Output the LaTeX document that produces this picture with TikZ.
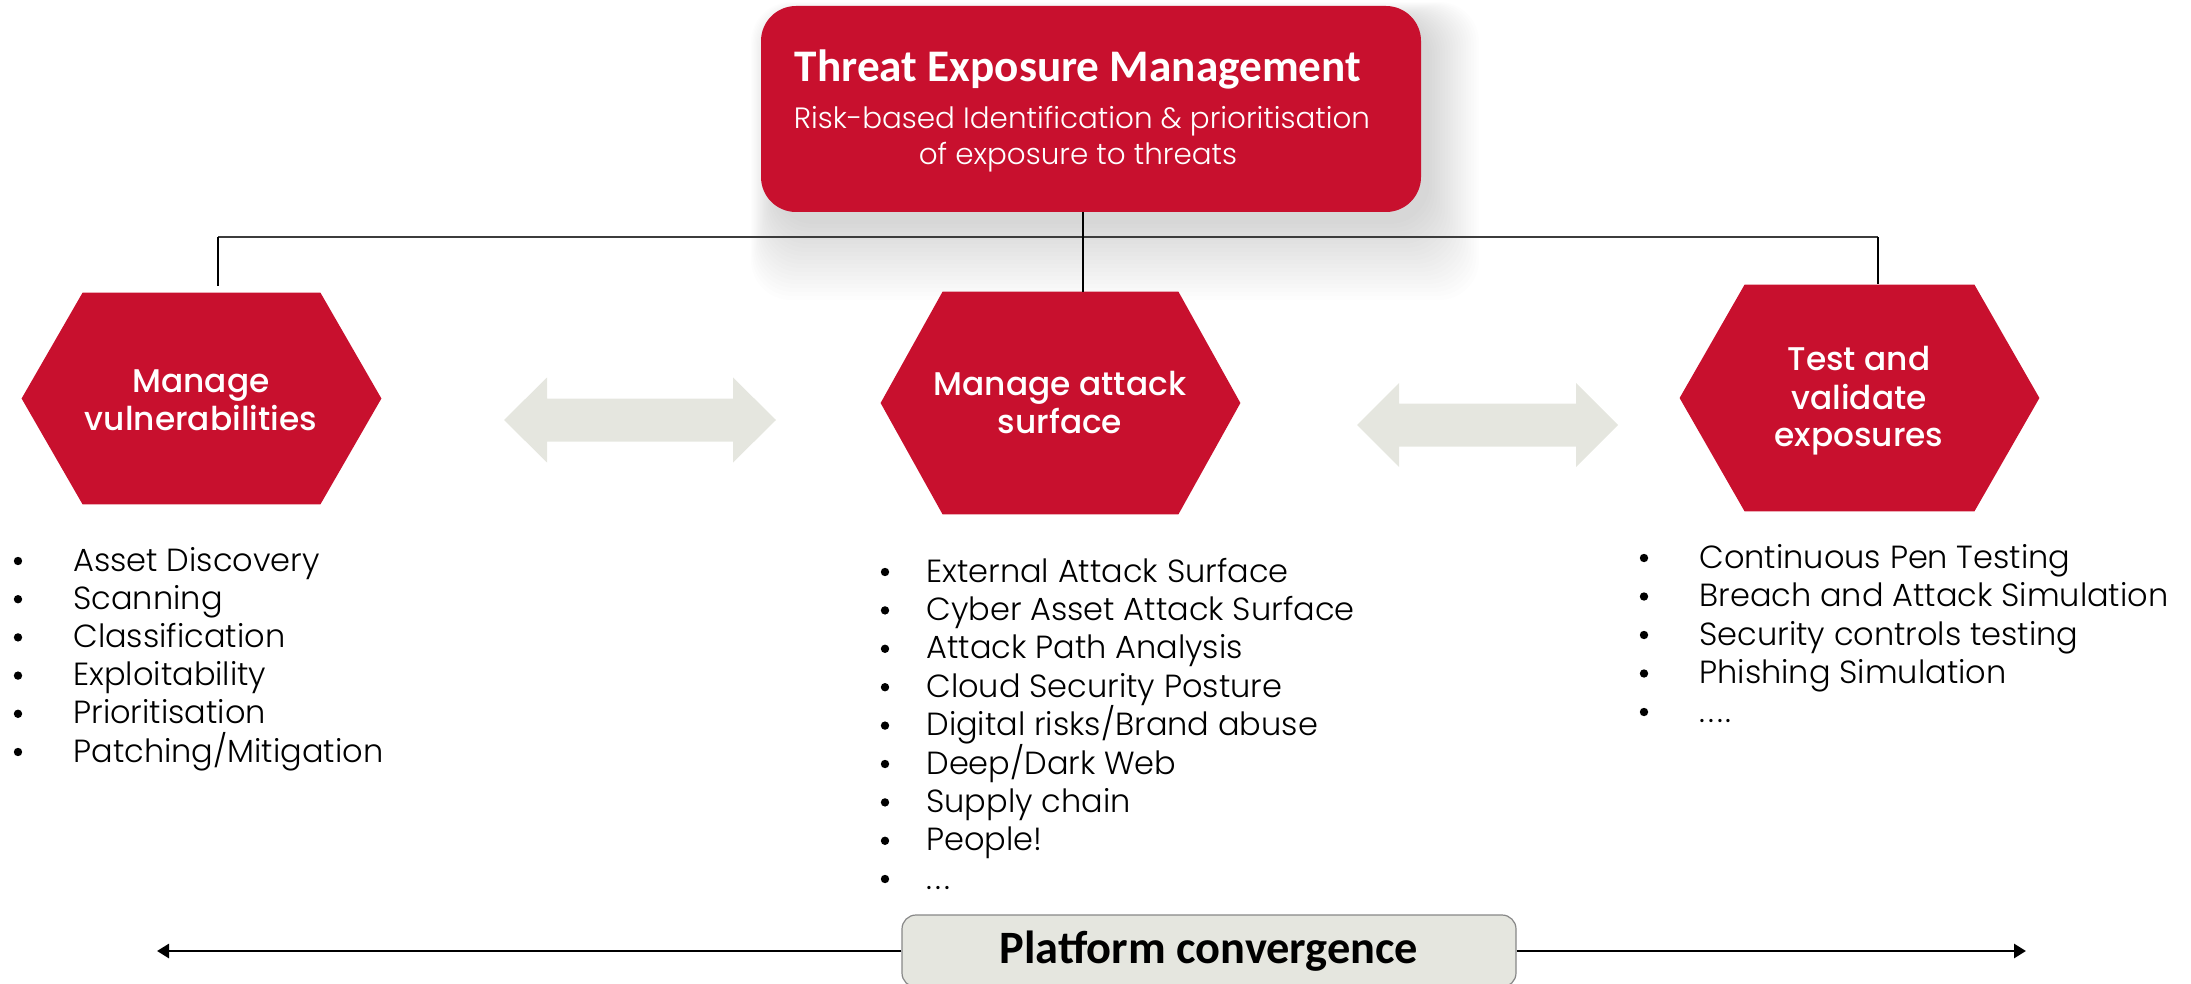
\documentclass[tikz,border=0pt]{standalone}
\usepackage{fontspec}
\setmainfont{Poppins}
\IfFontExistsTF{Poppins Light}{\newfontfamily\lightf{Poppins Light}}{\newfontfamily\lightf{Poppins}}
\IfFontExistsTF{Poppins Medium}{\newfontfamily\medf{Poppins Medium}}{\newfontfamily\medf{Poppins}}
\newfontfamily\calf{Carlito}
\usetikzlibrary{calc,arrows.meta}
\definecolor{tred}{RGB}{200,16,46}
\definecolor{agray}{RGB}{229,230,223}
\definecolor{bgray}{RGB}{135,135,135}
\definecolor{lgray}{RGB}{60,60,60}
\tikzset{
  topbox/.style={fill=tred, rounded corners=17.5pt, minimum width=330pt, minimum height=103pt, inner sep=0pt},
  hexbox/.style={inner sep=0pt, minimum width=179.5pt},
  hexlabel/.style={text=white, font=\medf\fontsize{16.4}{18}\selectfont, anchor=base, inner sep=0pt},
  titlelabel/.style={text=white, font=\calf\bfseries\fontsize{22.6}{24}\selectfont, anchor=base, inner sep=0pt},
  sublabel/.style={text=white, font=\lightf\fontsize{14.7}{16}\selectfont, anchor=base, inner sep=0pt},
  item/.style={font=\lightf\fontsize{16}{18}\selectfont, anchor=base west, inner sep=0pt},
  bulc/.style={circle, fill=black, minimum size=4.2pt, inner sep=0pt},
  busline/.style={draw=lgray, line width=1pt},
  drop/.style={draw=black, line width=0.7pt},
  blockarrow/.style={fill=agray},
  platbox/.style={fill=agray, draw=bgray, line width=0.6pt, rounded corners=7pt, minimum width=307pt, minimum height=36pt, inner sep=0pt, font=\calf\bfseries\fontsize{23.2}{26}\selectfont},
  convline/.style={draw=black, line width=1.4pt, -{Triangle[length=6pt,width=7pt]}}
}
\begin{document}
\begin{tikzpicture}[x=0.5pt,y=-0.5pt]
\useasboundingbox (0,0) rectangle (2191,984);
% soft shadow of the top box
\foreach \k in {1,2,3,4,5,6,7,8,9,10,11,12,13,14,15,16,17,18,19,20}{
  \fill[black, opacity=0.007, rounded corners=20pt] (761+14-1.2*\k, 6+12-0.8*\k) rectangle (1421+6+2.6*\k, 212+8+4*\k);
}
\node[topbox] (top) at (1091,109) {};
\node[titlelabel] (ttl) at (1078,82) {Threat Exposure Management};
\node[sublabel] (sub1) at (1082,129) {Risk-based Identification \& prioritisation};
\node[sublabel] (sub2) at (1078,165) {of exposure to threats};

% hexagons
\node[hexbox, minimum height=105.5pt] (hex1) at (201.5,398.5) {};
\node[hexbox, minimum height=111pt] (hex2) at (1060.5,403) {};
\node[hexbox, minimum height=113pt] (hex3) at (1859.5,398) {};
\foreach \h/\s in {hex1/61,hex2/62,hex3/65}{
  \fill[tred] (\h.west) -- ($(\h.north west)+(\s,0)$) -- ($(\h.north east)+(-\s,0)$) -- (\h.east) -- ($(\h.south east)+(-\s,0)$) -- ($(\h.south west)+(\s,0)$) -- cycle;
}
\node[hexlabel] (h1a) at (201,393) {Manage};
\node[hexlabel] (h1b) at (201,430) {vulnerabilities};
\node[hexlabel] (h2a) at (1060,395) {Manage attack};
\node[hexlabel] (h2b) at (1060,433) {surface};
\node[hexlabel] (h3a) at (1859,371) {Test and};
\node[hexlabel] (h3b) at (1859,409) {validate};
\node[hexlabel] (h3c) at (1859,446) {exposures};

% bus connectors
\coordinate (busL) at (218,237.5);
\coordinate (busC) at (1083,237.5);
\coordinate (busR) at (1878,237.5);
\draw[busline] (busL) -- (busR);
\draw[drop] (busC |- top.south) -- (busC |- hex2.north);
\draw[drop, shorten >=3.5pt] (busL) -- (busL |- hex1.north);
\draw[drop, shorten >=0.5pt] (busR) -- (busR |- hex3.north);

% block double arrows
\fill[blockarrow] (504,420) -- (547,377.5) -- (547,398.5) -- (733,398.5) -- (733,377.5) -- (776,420) -- (733,462.5) -- (733,441.5) -- (547,441.5) -- (547,462.5) -- cycle;
\fill[blockarrow] (1357,425) -- (1399,383) -- (1399,403.5) -- (1576,403.5) -- (1576,383) -- (1618,425) -- (1576,467) -- (1576,446.5) -- (1399,446.5) -- (1399,467) -- cycle;

% lists
\foreach \t [count=\i] in {Asset Discovery,Scanning,Classification,Exploitability,Prioritisation,Patching/Mitigation}{
  \node[bulc] (lb\i) at (18,561+38.2*\i-38.2) {};
  \node[item] (li\i) at (73,571+38.2*\i-38.2) {\t};
}
\foreach \t [count=\i] in {External Attack Surface,Cyber Asset Attack Surface,Attack Path Analysis,Cloud Security Posture,Digital risks/Brand abuse,Deep/Dark Web,Supply chain,People!}{
  \node[bulc] (mb\i) at (885,572+38.4*\i-38.4) {};
  \node[item] (mi\i) at (926,582+38.4*\i-38.4) {\t};
}
\node[bulc] (mb9) at (885,879) {};
\node[item] (mi9) at (926,889) {.\kern1.5pt.\kern1.5pt.};
\foreach \t [count=\i] in {Continuous Pen Testing,Breach and Attack Simulation,Security controls testing,Phishing Simulation}{
  \node[bulc] (rb\i) at (1644,558+38.5*\i-38.5) {};
  \node[item] (ri\i) at (1699,568+38.5*\i-38.5) {\t};
}
\node[bulc] (rb5) at (1644,712) {};
\node[item] (ri5) at (1699,722) {.\kern1.5pt.\kern1.5pt.\kern1.5pt.};

% platform convergence
\node[platbox] (plat) at (1209,951) {Platform convergence};
\coordinate (endL) at (157,951);
\coordinate (endR) at (2026,951);
\draw[convline] (plat.west) -- (endL);
\draw[convline] (plat.east) -- (endR);
\end{tikzpicture}
\end{document}
